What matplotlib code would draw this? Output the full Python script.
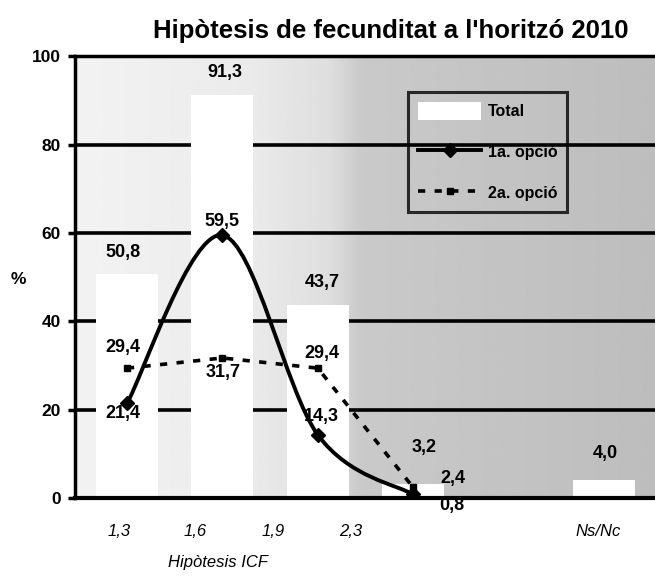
import numpy as np
import matplotlib
matplotlib.use("Agg")
import matplotlib.pyplot as plt
from matplotlib.path import Path
from matplotlib.patches import PathPatch, Patch
from matplotlib.lines import Line2D

plt.rcParams["font.family"] = ["Liberation Sans", "DejaVu Sans"]

# Data
bar_slots = [0, 1, 2, 3, 5]
total = [50.8, 91.3, 43.7, 3.2, 4.0]
line_slots = [0, 1, 2, 3]
opcio1 = [21.4, 59.5, 14.3, 0.8]
opcio2 = [29.4, 31.7, 29.4, 2.4]
tick_labels = ["1,3", "1,6", "1,9", "2,3", "Ns/Nc"]
tick_pos = [-0.08, 0.71, 1.53, 2.34, 4.94]

# label offsets in pixels (x, y)
total_off = [(-4, 21), (2, 22), (4, 22), (11, 36), (1, 27)]
op1_off = [(-4, -10), (0, 14), (4, 18), (39, -11)]
op2_off = [(-4, 21), (1, -15), (4, 15), (40, 9)]


def fmt(v):
    return f"{v:.1f}".replace(".", ",")


def smooth_path(xs, ys):
    # catmull-rom style bezier, like the spreadsheet "smoothed line"
    pts = np.column_stack([xs, ys])
    n = len(pts)
    verts = [pts[0]]
    codes = [Path.MOVETO]
    for i in range(n - 1):
        p0 = pts[max(i - 1, 0)]
        p1 = pts[i]
        p2 = pts[i + 1]
        p3 = pts[min(i + 2, n - 1)]
        c1 = p1 + (p2 - p0) / 6
        c2 = p2 - (p3 - p1) / 6
        verts += [c1, c2, p2]
        codes += [Path.CURVE4] * 3
    return Path(verts, codes)


fig = plt.figure(figsize=(6.55, 5.77), dpi=100)
ax = fig.add_axes([75 / 655, 1 - 498 / 577, 1 - 75 / 655, (498 - 56.3) / 577])

xmin, xmax = -0.545, 5.535
ax.set_xlim(xmin, xmax)
ax.set_ylim(0, 100)

# grey scan-like background, lighter on the left
px = np.linspace(75, 655, 400)
shade = np.interp(px, [75, 250, 330, 360, 655], [0.95, 0.92, 0.87, 0.79, 0.74])
ax.imshow(shade[np.newaxis, :], cmap="gray", vmin=0, vmax=1, aspect="auto",
          extent=[xmin, xmax, 0, 100], zorder=0)

for yv in [20, 40, 60, 80]:
    ax.axhline(yv, color="black", lw=2.6, zorder=1)

ax.bar(bar_slots, total, width=0.65, color="white", zorder=2)

# 1a. opció - smoothed solid line
ax.add_patch(PathPatch(smooth_path(line_slots, opcio1), facecolor="none",
                       edgecolor="black", lw=2.8, zorder=3))
ax.plot(line_slots, opcio1, ls="none", marker="D", ms=7, color="black", zorder=4)

# 2a. opció - dotted line
ax.plot(line_slots, opcio2, ls=(0, (2, 2.6)), lw=2.6, marker="s", ms=5,
        color="black", zorder=3)

for s, v, o in zip(bar_slots, total, total_off):
    ax.annotate(fmt(v), (s, v), xytext=o, textcoords="offset pixels",
                ha="center", va="center", fontsize=13, fontweight="bold", zorder=5)
for s, v, o in zip(line_slots, opcio1, op1_off):
    ax.annotate(fmt(v), (s, v), xytext=o, textcoords="offset pixels",
                ha="center", va="center", fontsize=13, fontweight="bold", zorder=5)
for s, v, o in zip(line_slots, opcio2, op2_off):
    ax.annotate(fmt(v), (s, v), xytext=o, textcoords="offset pixels",
                ha="center", va="center", fontsize=13, fontweight="bold", zorder=5)

ax.set_xticks(tick_pos)
ax.set_xticklabels(tick_labels, fontstyle="italic", fontsize=12)
ax.tick_params(axis="x", length=0, pad=19)
ax.set_yticks([0, 20, 40, 60, 80, 100])
ax.set_yticklabels(["0", "20", "40", "60", "80", "100"], fontweight="bold", fontsize=12.5)
ax.tick_params(axis="y", length=5, width=2.5, pad=5)

ax.spines["right"].set_visible(False)
ax.spines["left"].set_linewidth(2.5)
ax.spines["top"].set_linewidth(2.5)
ax.spines["bottom"].set_linewidth(3)
for sp in ax.spines.values():
    sp.set_zorder(6)

handles = [
    Patch(facecolor="white", edgecolor="none"),
    Line2D([], [], color="black", lw=2.8, marker="D", ms=7),
    Line2D([], [], color="black", lw=2.6, ls=(0, (2, 2.6)), marker="s", ms=5),
]
leg = ax.legend(handles, ["Total", "1a. opció", "2a. opció"],
                loc="upper left", bbox_to_anchor=(408 / 655, 1 - 92 / 577),
                bbox_transform=fig.transFigure, borderaxespad=0,
                frameon=True, fancybox=False,
                prop={"weight": "bold", "size": 11.5}, handlelength=4.0,
                handleheight=1.4, labelspacing=1.42, borderpad=0.6,
                handletextpad=0.4)
leg.get_frame().set_facecolor("none")
leg.get_frame().set_edgecolor("black")
leg.get_frame().set_linewidth(2.2)
leg.set_zorder(7)

fig.text(391 / 655, 1 - 31 / 577, "Hipòtesis de fecunditat a l'horitzó 2010",
         ha="center", va="center", fontsize=18.5, fontweight="bold")
fig.text(18 / 655, 1 - 280 / 577, "%", ha="center", va="center",
         fontsize=12.5, fontweight="bold")
fig.text(218 / 655, 1 - 563 / 577, "Hipòtesis ICF", ha="center", va="center",
         fontsize=12, fontstyle="italic")

fig.savefig("out.png", dpi=100)
